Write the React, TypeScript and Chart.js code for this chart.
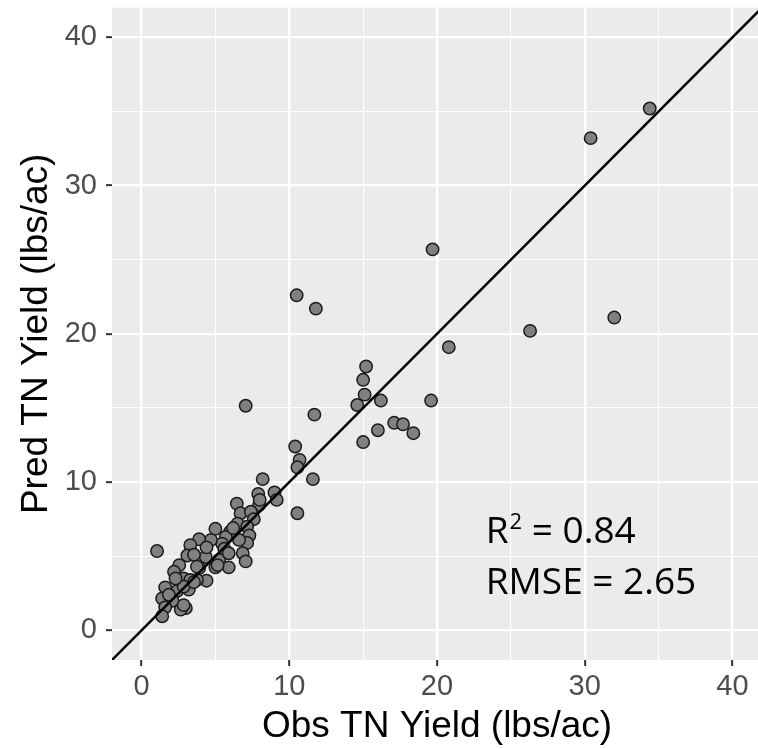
import { useEffect, useRef } from "react";
import { Chart, registerables } from "chart.js";

Chart.register(...registerables);

// Observed vs. predicted total-nitrogen yield (lbs/ac) for each site-year
const obsYield = [
  34.4, 30.4, 19.7, 32.0, 26.3, 20.8, 10.5, 11.8, 15.2, 15.0,
  15.1, 14.6, 16.2, 19.6, 16.0, 17.1, 17.7, 18.4, 15.0, 7.05,
  11.7, 10.4, 10.7, 10.55, 11.6, 8.2, 10.55, 7.9, 9.0, 9.15,
  7.95, 8.0, 6.45, 6.7, 7.4, 7.6, 6.5, 5.0, 6.0, 7.15,
  7.3, 7.15, 6.85, 7.05, 5.7, 5.45, 5.6, 4.7, 3.9, 3.3,
  3.1, 4.35, 5.25, 5.0, 5.9, 1.05, 2.55, 2.2, 3.9, 2.85,
  3.3, 4.4, 1.6, 2.4, 3.2, 1.4, 2.1, 1.6, 3.0, 2.65,
  1.4, 2.85, 3.75, 5.9, 3.55, 3.75, 5.15, 3.55, 2.85, 6.2,
  6.6, 4.4, 2.3, 1.85,
];

const predYield = [
  35.2, 33.2, 25.7, 21.1, 20.2, 19.1, 22.6, 21.7, 17.8, 16.9,
  15.9, 15.2, 15.5, 15.5, 13.5, 14.0, 13.9, 13.3, 12.7, 15.15,
  14.55, 12.4, 11.5, 11.0, 10.2, 10.2, 7.9, 9.2, 9.3, 8.8,
  8.45, 8.8, 8.55, 7.9, 8.0, 7.5, 7.2, 6.85, 6.65, 7.0,
  6.4, 5.9, 5.2, 4.65, 6.3, 5.85, 5.5, 6.1, 6.15, 5.75,
  5.05, 4.95, 4.75, 4.25, 4.25, 5.35, 4.4, 3.95, 4.2, 3.5,
  3.4, 3.35, 2.9, 2.65, 2.75, 2.15, 2.0, 1.55, 1.5, 1.4,
  0.95, 2.95, 3.4, 5.2, 5.1, 4.3, 4.4, 3.25, 1.7, 6.9,
  6.1, 5.6, 3.5, 2.4,
];

// 1:1 reference line end points
const oneToOne = [-2, 42];

// Axis extent and grid values shared by both axes
const axisMin = -2;
const axisMax = 42;
const gridValues = [0, 5, 10, 15, 20, 25, 30, 35, 40];

// Fit statistics shown in the lower right of the panel
const r2Label = "R";
const r2Sup = "2";
const r2Value = " = 0.84";
const rmseLabel = "RMSE = 2.65";
const statsAnchor = { x: 23.3, r2Baseline: 5.87, rmseBaseline: 2.43 };

const AXIS_FONT = '"Liberation Sans", Arial, sans-serif';
const STATS_FONT = '"Open Sans", sans-serif';

const isMajor = (v: number) => v % 10 === 0;

const panelBackground = {
  id: "panelBackground",
  beforeDraw(chart: any) {
    const { ctx, chartArea } = chart;
    const { left, top, right, bottom } = chartArea;
    ctx.save();
    ctx.fillStyle = "#EBEBEB";
    ctx.fillRect(left, top, right - left, bottom - top);
    ctx.restore();
  },
};

const fitStatsText = {
  id: "fitStatsText",
  afterDraw(chart: any) {
    const { ctx, scales } = chart;
    const x0 = scales.x.getPixelForValue(statsAnchor.x);
    const y1 = scales.y.getPixelForValue(statsAnchor.r2Baseline);
    const y2 = scales.y.getPixelForValue(statsAnchor.rmseBaseline);
    const size = 37;
    ctx.save();
    ctx.fillStyle = "#000";
    ctx.textAlign = "left";
    ctx.textBaseline = "alphabetic";
    ctx.font = `${size}px ${STATS_FONT}`;
    ctx.fillText(r2Label, x0, y1);
    let x = x0 + ctx.measureText(r2Label).width + 1;
    ctx.font = `${Math.round(size * 0.6)}px ${STATS_FONT}`;
    ctx.fillText(r2Sup, x, y1 - size * 0.38);
    x += ctx.measureText(r2Sup).width;
    ctx.font = `${size}px ${STATS_FONT}`;
    ctx.fillText(r2Value, x, y1);
    ctx.fillText(rmseLabel, x0, y2);
    ctx.restore();
  },
};

function axisOptions(title: string, isX: boolean) {
  return {
    type: "linear" as const,
    min: axisMin,
    max: axisMax,
    afterBuildTicks: (scale: any) => {
      scale.ticks = gridValues.map((value) => ({ value }));
    },
    afterFit: (scale: any) => {
      if (isX) {
        scale.height = 89;
        scale.paddingLeft = 0;
        scale.paddingRight = 0;
      } else {
        scale.width = 112;
        scale.paddingTop = 0;
        scale.paddingBottom = 0;
      }
    },
    border: { display: false },
    grid: {
      color: "#FFFFFF",
      lineWidth: (c: any) => (c.tick && isMajor(c.tick.value) ? 2.3 : 1.1),
      drawTicks: true,
      tickLength: 6,
      tickWidth: 2,
      tickColor: (c: any) =>
        c.tick && isMajor(c.tick.value) ? "#333333" : "rgba(0,0,0,0)",
    },
    ticks: {
      autoSkip: false,
      maxRotation: 0,
      padding: isX ? 4 : 9,
      color: "#4D4D4D",
      font: { family: AXIS_FONT, size: 29 },
      callback: (v: any) => (isMajor(Number(v)) ? String(v) : ""),
    },
    title: {
      display: true,
      text: title,
      color: "#000000",
      font: { family: AXIS_FONT, size: 37 },
      padding: isX ? { top: 0, bottom: 0 } : { top: 15, bottom: 0 },
    },
  };
}

export default function App() {
  const canvasRef = useRef<HTMLCanvasElement | null>(null);

  useEffect(() => {
    const canvas = canvasRef.current;
    if (!canvas) return;
    const points = obsYield.map((x, i) => ({ x, y: predYield[i] }));
    const chart = new Chart(canvas, {
      type: "scatter",
      data: {
        datasets: [
          {
            type: "line",
            data: oneToOne.map((v) => ({ x: v, y: v })),
            borderColor: "#000000",
            borderWidth: 2.5,
            pointRadius: 0,
            fill: false,
            clip: 0,
          } as any,
          {
            type: "scatter",
            data: points,
            backgroundColor: "#808080",
            borderColor: "#1A1A1A",
            borderWidth: 1.5,
            pointRadius: 6.2,
          },
        ],
      },
      options: {
        animation: false,
        responsive: false,
        events: [],
        layout: { padding: { top: 7, right: 8, left: 0, bottom: 0 } },
        plugins: {
          legend: { display: false },
          tooltip: { enabled: false },
        },
        scales: {
          x: axisOptions("Obs TN Yield (lbs/ac)", true) as any,
          y: axisOptions("Pred TN Yield (lbs/ac)", false) as any,
        },
      },
      plugins: [panelBackground, fitStatsText],
    });
    return () => chart.destroy();
  }, []);

  return (
    <div
      style={{
        position: "fixed",
        left: 0,
        top: 0,
        width: 758,
        height: 749,
        overflow: "hidden",
        background: "#FFFFFF",
      }}
    >
      <canvas ref={canvasRef} width={770} height={749} style={{ display: "block" }} />
    </div>
  );
}
